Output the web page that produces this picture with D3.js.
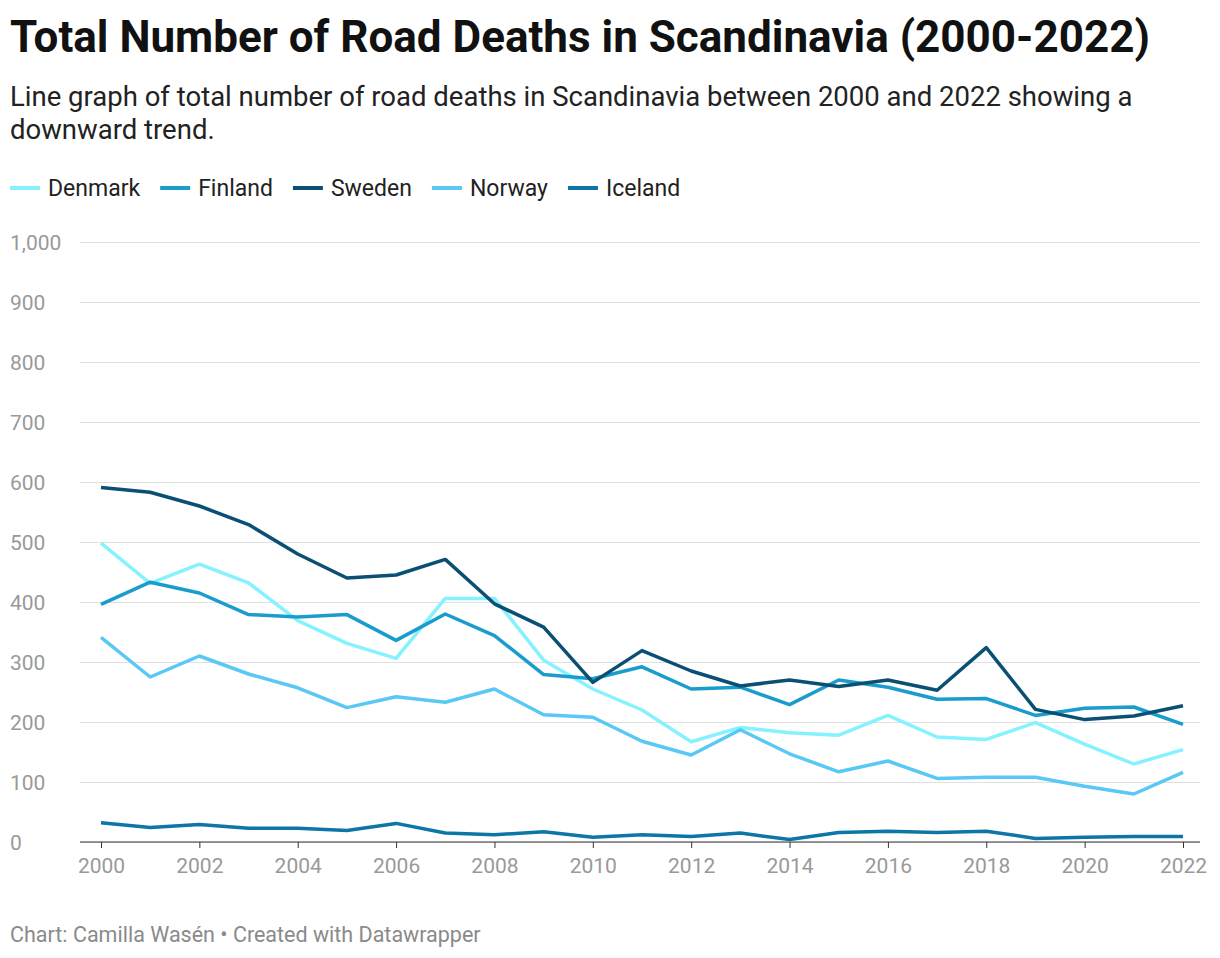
<!DOCTYPE html>
<html>
<head>
<meta charset="utf-8">
<script src="https://cdn.jsdelivr.net/npm/d3@7"></script>
<style>
body { margin: 0; background: #fff; font-family: Roboto, sans-serif; }
.grid line { stroke: #e0e0e0; }
.tick text { fill: #999; font-size: 21px; font-family: Roboto, sans-serif; }
</style>
</head>
<body>
<svg id="chart" width="1220" height="958"></svg>
<script>
// data
var years = d3.range(2000, 2023);
var denmark = [498, 431, 463, 432, 369, 331, 306, 406, 406, 303, 255, 220, 167, 191, 182, 178, 211, 175, 171, 199, 163, 130, 154];
var finland = [396, 433, 415, 379, 375, 379, 336, 380, 344, 279, 272, 292, 255, 258, 229, 270, 258, 238, 239, 211, 223, 225, 196];
var sweden  = [591, 583, 560, 529, 480, 440, 445, 471, 397, 358, 266, 319, 285, 260, 270, 259, 270, 253, 324, 221, 204, 210, 227];
var norway  = [341, 275, 310, 280, 257, 224, 242, 233, 255, 212, 208, 168, 145, 187, 147, 117, 135, 106, 108, 108, 93, 80, 116];
var iceland = [32, 24, 29, 23, 23, 19, 31, 15, 12, 17, 8, 12, 9, 15, 4, 16, 18, 16, 18, 6, 8, 9, 9];
var yTicks = [0, 100, 200, 300, 400, 500, 600, 700, 800, 900, 1000];
var xTicks = d3.range(2000, 2023, 2);

var series = [
  {name: "Denmark", values: denmark, color: "#86f1ff"},
  {name: "Finland", values: finland, color: "#1a9dcc"},
  {name: "Sweden",  values: sweden,  color: "#0a4f74"},
  {name: "Norway",  values: norway,  color: "#5ac8f5"},
  {name: "Iceland", values: iceland, color: "#0d76a6"}
];

var svg = d3.select("#chart");

svg.append("text").attr("x", 10).attr("y", 52)
  .style("font-size", "44px").style("font-weight", "bold").attr("fill", "#111")
  .text("Total Number of Road Deaths in Scandinavia (2000-2022)");
svg.append("text").attr("x", 10).attr("y", 106)
  .style("font-size", "27.5px").attr("fill", "#222")
  .text("Line graph of total number of road deaths in Scandinavia between 2000 and 2022 showing a");
svg.append("text").attr("x", 10).attr("y", 139)
  .style("font-size", "27.5px").attr("fill", "#222")
  .text("downward trend.");

// legend
var lx = 10;
series.forEach(function(s) {
  var g = svg.append("g").attr("transform", "translate(" + lx + ",188)");
  g.append("line").attr("x1", 0).attr("x2", 30).attr("stroke", s.color).attr("stroke-width", 4);
  var t = g.append("text").attr("x", 38).attr("y", 8).style("font-size", "23px").attr("fill", "#222").text(s.name);
  lx += 38 + t.node().getComputedTextLength() + 20;
});

var x = d3.scaleLinear().domain([2000, 2022]).range([101, 1183]);
var y = d3.scaleLinear().domain([0, 1000]).range([842, 242]);

svg.append("g").attr("class", "grid")
  .call(d3.axisLeft(y).tickValues(yTicks).tickSize(0).tickFormat(d3.format(",")))
  .call(function(g) {
    g.select(".domain").remove();
    g.selectAll(".tick line").attr("x1", 80).attr("x2", 1200);
    g.selectAll(".tick text").attr("x", 10).attr("dy", "0.35em").attr("text-anchor", "start");
  });

svg.append("g")
  .attr("transform", "translate(0,842)")
  .call(d3.axisBottom(x).tickValues(xTicks).tickFormat(d3.format("d")).tickSize(6))
  .call(function(g) {
    g.select(".domain").attr("stroke", "#333").attr("d", "M80,0H1200");
    g.selectAll(".tick line").attr("stroke", "#333");
    g.selectAll(".tick text").attr("dy", "1.05em");
  });

var line = d3.line()
  .x(function(d, i) { return x(years[i]); })
  .y(function(d) { return y(d); });

series.forEach(function(s) {
  svg.append("path").datum(s.values)
    .attr("fill", "none").attr("stroke", s.color).attr("stroke-width", 3.5)
    .attr("stroke-linejoin", "round")
    .attr("d", line);
});

svg.append("text").attr("x", 10).attr("y", 942)
  .style("font-size", "21.5px").attr("fill", "#8a8a8a")
  .text("Chart: Camilla Wasén • Created with Datawrapper");
</script>
</body>
</html>
